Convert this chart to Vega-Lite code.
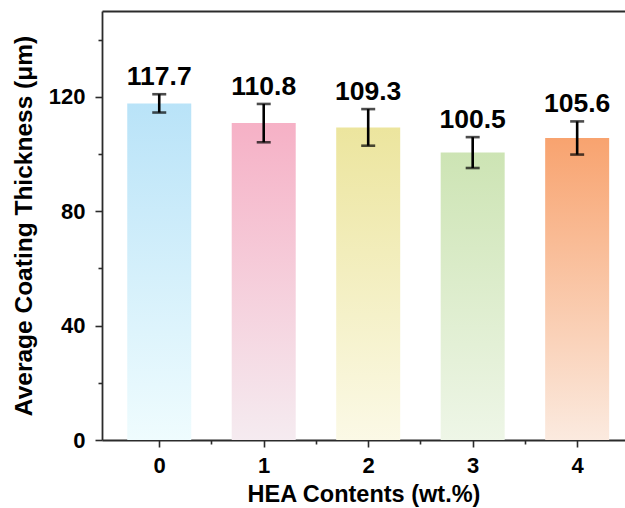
{
  "$schema": "https://vega.github.io/schema/vega-lite/v6.json",
  "width": 523,
  "height": 429,
  "autosize": {"type": "none"},
  "padding": {"left": 102, "top": 11, "right": 0, "bottom": 68},
  "background": "white",
  "config": {
    "view": {"stroke": null},
    "font": "Liberation Sans",
    "axis": {
      "domainColor": "#2b2b2b",
      "domainWidth": 1.8,
      "tickColor": "#2b2b2b",
      "tickWidth": 1.6,
      "labelFont": "Liberation Sans",
      "labelFontWeight": "bold",
      "labelFontSize": 22,
      "labelColor": "black",
      "titleFont": "Liberation Sans",
      "titleFontWeight": "bold",
      "titleFontSize": 23.5,
      "titleColor": "black",
      "grid": false
    }
  },
  "data": {
    "values": [
      {"x": 0, "mean": 117.7, "lo": 114.5, "hi": 120.9},
      {"x": 1, "mean": 110.8, "lo": 104.1, "hi": 117.5},
      {"x": 2, "mean": 109.3, "lo": 102.9, "hi": 115.7},
      {"x": 3, "mean": 100.5, "lo": 95.1, "hi": 105.9},
      {"x": 4, "mean": 105.6, "lo": 99.8, "hi": 111.4}
    ]
  },
  "resolve": {"axis": {"x": "independent", "y": "independent"}},
  "layer": [
    {
      "mark": {"type": "bar", "size": 64},
      "encoding": {
        "x": {
          "field": "x",
          "type": "quantitative",
          "scale": {"domain": [-0.5, 4.41], "nice": false, "zero": false},
          "axis": {
            "orient": "bottom",
            "title": "HEA Contents (wt.%)",
            "values": [0, 0.5, 1, 1.5, 2, 2.5, 3, 3.5, 4],
            "format": ".0f",
            "labelExpr": "datum.value % 1 == 0 ? datum.label : ''",
            "tickSize": {"condition": {"test": "datum.value % 1 != 0", "value": 4}, "value": 7},
            "labelPadding": 8,
            "titlePadding": 6
          }
        },
        "y": {
          "field": "mean",
          "type": "quantitative",
          "scale": {"domain": [0, 150], "nice": false},
          "axis": {
            "orient": "left",
            "title": "Average Coating Thickness (μm)",
            "titleFontSize": 24.5,
            "values": [0, 20, 40, 60, 80, 100, 120, 140],
            "format": "d",
            "labelExpr": "datum.value % 40 == 0 ? datum.label : ''",
            "tickSize": {"condition": {"test": "datum.value % 40 != 0", "value": 4}, "value": 7},
            "labelPadding": 10,
            "titlePadding": 12
          }
        },
        "fill": {
          "condition": [
            {"test": "datum.x == 0", "value": {"gradient": "linear", "x1": 0, "y1": 1, "x2": 0, "y2": 0, "stops": [{"offset": 0, "color": "#effcfe"}, {"offset": 1, "color": "#b9e3f8"}]}},
            {"test": "datum.x == 1", "value": {"gradient": "linear", "x1": 0, "y1": 1, "x2": 0, "y2": 0, "stops": [{"offset": 0, "color": "#f5ebf0"}, {"offset": 1, "color": "#f6b1c6"}]}},
            {"test": "datum.x == 2", "value": {"gradient": "linear", "x1": 0, "y1": 1, "x2": 0, "y2": 0, "stops": [{"offset": 0, "color": "#fbf9e6"}, {"offset": 1, "color": "#ece59e"}]}},
            {"test": "datum.x == 3", "value": {"gradient": "linear", "x1": 0, "y1": 1, "x2": 0, "y2": 0, "stops": [{"offset": 0, "color": "#eef6e7"}, {"offset": 1, "color": "#cde4b4"}]}}
          ],
          "value": {"gradient": "linear", "x1": 0, "y1": 1, "x2": 0, "y2": 0, "stops": [{"offset": 0, "color": "#fbeadf"}, {"offset": 1, "color": "#f8a36f"}]}
        }
      }
    },
    {
      "mark": {"type": "rule", "color": "black", "strokeWidth": 2.6},
      "encoding": {
        "x": {"field": "x", "type": "quantitative", "axis": {"orient": "top", "labels": false, "ticks": false, "title": null, "domain": true}},
        "y": {"field": "lo", "type": "quantitative", "axis": null},
        "y2": {"field": "hi"}
      }
    },
    {
      "mark": {"type": "tick", "orient": "horizontal", "color": "black", "size": 14, "thickness": 2.6},
      "encoding": {
        "x": {"field": "x", "type": "quantitative", "axis": null},
        "y": {"field": "lo", "type": "quantitative", "axis": null}
      }
    },
    {
      "mark": {"type": "tick", "orient": "horizontal", "color": "black", "size": 14, "thickness": 2.6},
      "encoding": {
        "x": {"field": "x", "type": "quantitative", "axis": null},
        "y": {"field": "hi", "type": "quantitative", "axis": null}
      }
    },
    {
      "mark": {"type": "text", "font": "Liberation Sans", "fontWeight": "bold", "fontSize": 26.5, "baseline": "alphabetic", "dy": -9, "color": "black"},
      "encoding": {
        "x": {"field": "x", "type": "quantitative", "axis": null},
        "y": {"field": "hi", "type": "quantitative", "axis": null},
        "text": {"field": "mean", "type": "quantitative", "format": ".1f"}
      }
    }
  ]
}
